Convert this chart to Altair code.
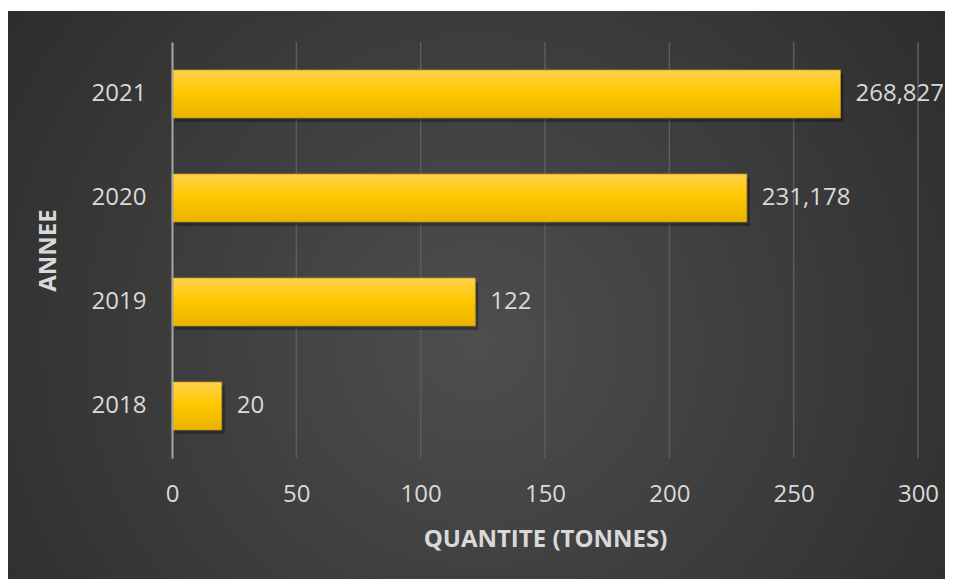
import altair as alt
import pandas as pd

years = ["2021", "2020", "2019", "2018"]
quantities = [268.827, 231.178, 122, 20]
labels = [f"{v:g}".replace(".", ",") for v in quantities]
x_ticks = [0, 50, 100, 150, 200, 250, 300]

df = pd.DataFrame({"annee": years, "quantite": quantities, "label": labels})
grid_df = pd.DataFrame({"tick": x_ticks[1:]})

FONT = "Open Sans"
LABEL_COLOR = "#d9d9d9"

bg = alt.Chart(pd.DataFrame({"a": [0]})).mark_rect(
    fill=alt.RadialGradient(
        gradient="radial",
        x1=0.5, y1=0.55, r1=0.0,
        x2=0.5, y2=0.55, r2=0.75,
        stops=[
            alt.GradientStop(offset=0, color="#4e4e4e"),
            alt.GradientStop(offset=1, color="#262626"),
        ],
    )
).encode(
    x=alt.value(-164), x2=alt.value(773), y=alt.value(-31), y2=alt.value(537)
)

grid = alt.Chart(grid_df).mark_rule(color="#5c5c5c", strokeWidth=1.5).encode(
    x=alt.X("tick:Q", scale=alt.Scale(domain=[0, 300], nice=False)),
    y=alt.value(0), y2=alt.value(416),
)

ysc = alt.Y(
    "annee:N",
    sort=years,
    scale=alt.Scale(paddingInner=0.538, paddingOuter=0.269),
    axis=alt.Axis(
        title="ANNEE",
        titleFont=FONT, titleFontSize=24, titleFontWeight="bold", titleColor=LABEL_COLOR,
        titlePadding=31,
        labelFont=FONT, labelFontSize=24, labelColor=LABEL_COLOR, labelPadding=26,
        ticks=False, domain=True, domainColor="#a6a6a6", domainWidth=2,
        grid=False, zindex=1,
    ),
)

xsc = alt.X(
    "quantite:Q",
    scale=alt.Scale(domain=[0, 300], nice=False),
    axis=alt.Axis(
        title="QUANTITE (TONNES)",
        values=x_ticks,
        titleFont=FONT, titleFontSize=24, titleFontWeight="bold", titleColor=LABEL_COLOR,
        titlePadding=21,
        labelFont=FONT, labelFontSize=24, labelColor=LABEL_COLOR, labelPadding=24,
        labelFlush=False,
        ticks=False, domain=False, grid=False, zindex=1,
    ),
)

shadow = alt.Chart(df).mark_bar(
    color="#000000", opacity=0.3, xOffset=3, yOffset=4
).encode(x=alt.X("quantite:Q"), y=alt.Y("annee:N", sort=years))

bars = alt.Chart(df).mark_bar(
    fill=alt.LinearGradient(
        gradient="linear", x1=0, y1=0, x2=0, y2=1,
        stops=[
            alt.GradientStop(offset=0, color="#ffd24d"),
            alt.GradientStop(offset=0.45, color="#ffc800"),
            alt.GradientStop(offset=1, color="#e9b300"),
        ],
    ),
    stroke="#b8901a", strokeWidth=0.8,
).encode(x=xsc, y=ysc)

text = alt.Chart(df).mark_text(
    align="left", baseline="middle", dx=15, font=FONT, fontSize=24, color=LABEL_COLOR
).encode(x=alt.X("quantite:Q"), y=alt.Y("annee:N", sort=years), text="label:N")

chart = alt.layer(bg, grid, shadow, bars, text).properties(
    width=746,
    height=416,
    autosize=alt.AutoSizeParams(type="none"),
    padding={"left": 172, "top": 42, "right": 37, "bottom": 123},
).configure(background="white").configure_view(stroke=None)

chart.save("out.html", embed_options={"renderer": "svg", "actions": False})
